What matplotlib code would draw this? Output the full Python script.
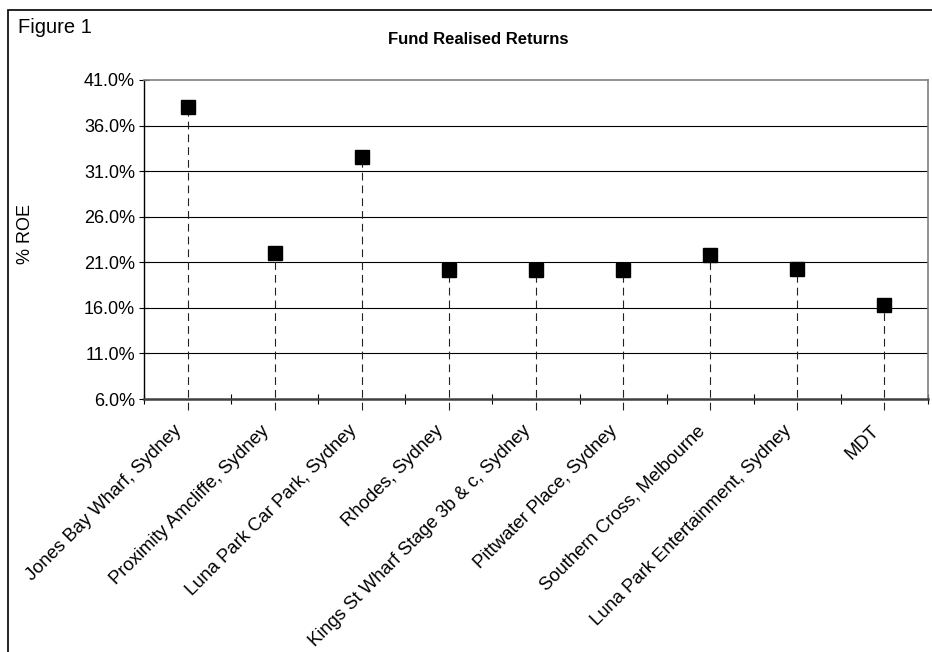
import matplotlib
matplotlib.use("Agg")
import matplotlib.pyplot as plt
from matplotlib.patches import Rectangle
from matplotlib.ticker import FixedLocator, FuncFormatter
from matplotlib.transforms import ScaledTranslation

plt.rcParams['font.family'] = ['Liberation Sans', 'DejaVu Sans']

categories = [
    "Jones Bay Wharf, Sydney",
    "Proximity Amcliffe, Sydney",
    "Luna Park Car Park, Sydney",
    "Rhodes, Sydney",
    "Kings St Wharf Stage 3b & c, Sydney",
    "Pittwater Place, Sydney",
    "Southern Cross, Melbourne",
    "Luna Park Entertainment, Sydney",
    "MDT",
]
roe = [38.0, 22.0, 32.6, 20.1, 20.1, 20.1, 21.8, 20.3, 16.3]
yticks = [6.0, 11.0, 16.0, 21.0, 26.0, 31.0, 36.0, 41.0]

W, H = 932, 652
fig = plt.figure(figsize=(W / 100, H / 100), dpi=100)
ax = fig.add_axes([144 / W, 1 - 399 / H, 784 / W, 319 / H])

x = list(range(len(categories)))
ymin, ymax = yticks[0], yticks[-1]
ax.set_xlim(-0.5, len(categories) - 0.5)
ax.set_ylim(ymin, ymax)

# gridlines
for t in yticks[1:-1]:
    ax.axhline(t, color='black', lw=0.8, zorder=1)

# drop lines
drop_bottom = ymin - 0.035 * (ymax - ymin)
ax.vlines(x, drop_bottom, roe, colors='#222222', lw=0.8,
          linestyles=(0, (7, 4.5)), clip_on=False, zorder=2)

ax.plot(x, roe, linestyle='none', marker='s', markersize=9.5,
        color='black', zorder=3, clip_on=False)

# spines
ax.spines['top'].set_color('#808080')
ax.spines['right'].set_color('#808080')
ax.spines['top'].set_linewidth(1.2)
ax.spines['right'].set_linewidth(1.2)
ax.spines['left'].set_color('black')
ax.spines['left'].set_linewidth(1.0)
ax.spines['bottom'].set_color('#404040')
ax.spines['bottom'].set_linewidth(1.8)

# y axis
ax.yaxis.set_major_locator(FixedLocator(yticks))
ax.yaxis.set_major_formatter(FuncFormatter(lambda v, p: f"{v:.1f}%"))
ax.tick_params(axis='y', direction='inout', length=7, width=0.8,
               labelsize=13, pad=3, colors='black')

# x axis: labels at centers, ticks at boundaries
ax.set_xticks(x)
ax.set_xticklabels(categories, rotation=45, ha='right', va='center',
                   rotation_mode='anchor', fontsize=13.3)
ax.set_xticks([i - 0.5 for i in range(len(categories) + 1)], minor=True)
ax.tick_params(axis='x', which='major', length=0, pad=21)
ax.tick_params(axis='x', which='minor', direction='inout', length=7,
               width=0.8, color='black')
shift = ScaledTranslation(-8 / 100, 0, fig.dpi_scale_trans)
for lab in ax.get_xticklabels():
    lab.set_transform(lab.get_transform() + shift)

# texts
fig.text(26 / W, 1 - 234 / H, "% ROE", rotation=90, ha='center',
         va='center', fontsize=13)
fig.text(478 / W, 1 - 40 / H, "Fund Realised Returns", ha='center',
         va='center', fontsize=12, fontweight='bold')
fig.text(18 / W, 1 - 33 / H, "Figure 1", ha='left', va='baseline',
         fontsize=14.5)

# outer border
fig.patches.append(Rectangle((8 / W, -0.2), 1.5, 1.2 - 10 / H,
                             transform=fig.transFigure, fill=False,
                             edgecolor='black', lw=1.2))

fig.savefig("out.png", dpi=100)
